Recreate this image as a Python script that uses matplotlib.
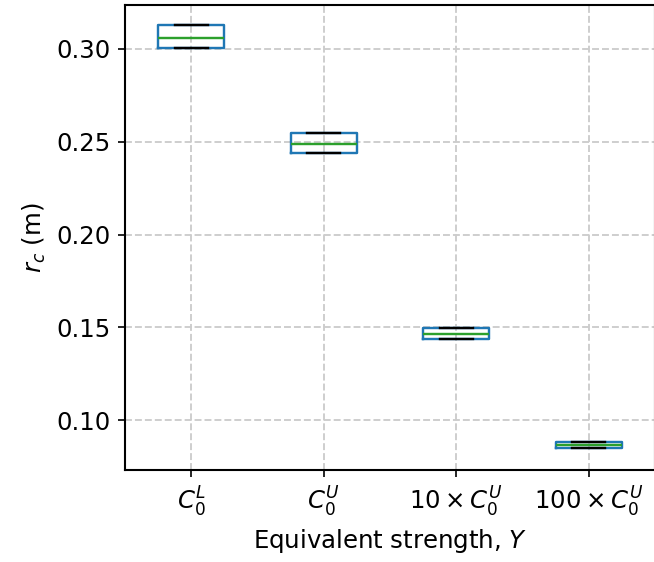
import matplotlib
matplotlib.use("Agg")
import matplotlib.pyplot as plt

labels = [r'$C_0^L$', r'$C_0^U$', r'$10\times C_0^U$', r'$100\times C_0^U$']
lows = [0.3003, 0.2437, 0.1435, 0.0848]
q1s = [0.3003, 0.2437, 0.1435, 0.0848]
medians = [0.3058, 0.2487, 0.1463, 0.0866]
q3s = [0.3129, 0.2547, 0.1496, 0.0880]
highs = [0.3129, 0.2547, 0.1496, 0.0880]


def main():
    plt.rcParams['font.size'] = 11.7
    plt.rcParams['axes.linewidth'] = 1.0
    fig = plt.figure(figsize=(654 / 150, 562 / 150), dpi=150)
    ax = fig.add_axes([125 / 654, 1 - 470 / 562, 530 / 654, 465 / 562])

    stats = []
    for lab, lo, a, m, b, hi in zip(labels, lows, q1s, medians, q3s, highs):
        stats.append(dict(label=lab, whislo=lo, q1=a, med=m, q3=b, whishi=hi, fliers=[]))

    ax.bxp(stats, widths=0.5,
           boxprops=dict(color='#1f77b4', linewidth=1.15),
           whiskerprops=dict(color='#1f77b4', linewidth=1.15),
           medianprops=dict(color='#2ca02c', linewidth=1.15),
           capprops=dict(color='k', linewidth=1.15))

    ax.set_xlim(0.5, 4.5)
    ax.set_ylim(0.0731, 0.3237)
    ax.set_yticks([0.10, 0.15, 0.20, 0.25, 0.30])
    ax.grid(True, linestyle='--', color='#cccccc', linewidth=0.9)
    ax.set_axisbelow(True)
    ax.set_xlabel('Equivalent strength, $Y$')
    ax.set_ylabel('$r_c$ (m)')
    fig.savefig('out.png', dpi=150)


if __name__ == '__main__': main()
